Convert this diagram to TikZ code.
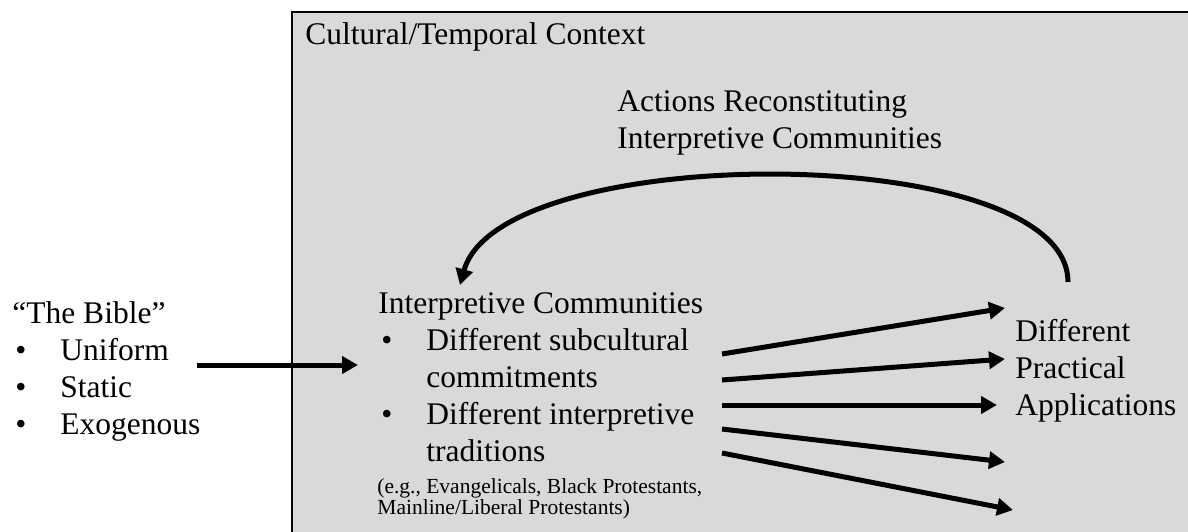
\documentclass[tikz,border=0pt]{standalone}
\usepackage{fontspec}
\setmainfont{Liberation Serif}
\usetikzlibrary{arrows.meta}

\definecolor{ctxgray}{HTML}{D9D9D9}

\newcommand{\bodysize}{\fontsize{15.75}{18.6}\selectfont}
\newcommand{\notesize}{\fontsize{10.75}{10.5}\selectfont}
\newcommand{\bul}{\makebox[24pt][l]{\hspace*{1.5pt}\textbullet}}
\newcommand{\hang}{\hspace*{24pt}}

\tikzset{
  plain text/.style={anchor=base west, inner sep=0pt, font=\bodysize},
  flow/.style={line width=2.5pt, -{Triangle[length=8pt,width=8.5pt]}},
}

\begin{document}
\begin{tikzpicture}[x=0.5pt, y=-0.5pt]
    \useasboundingbox (0,0) rectangle (1188,531);
    \clip (0,0) rectangle (1188,531);

    % Context box (runs off the page on the right and bottom)
    \filldraw[fill=ctxgray, line width=1.3pt] (292,12) rectangle (1230,580);
    \node[plain text] (context) at (305,44) {Cultural/Temporal Context};

    % Feedback loop
    \node[plain text] (actions) at (617,111)
      {\begin{tabular}[t]{@{}l@{}}Actions Reconstituting\\Interpretive Communities\end{tabular}};
    \coordinate (loopstart) at (1068,282);
    \coordinate (looptip) at (460,285);
    \draw[flow] (loopstart) .. controls (1068,140) and (500,140) .. (looptip);

    % The Bible
    \node[plain text] (bible) at (12,323)
      {\begin{tabular}[t]{@{}l@{}}``The Bible''\\\bul Uniform\\\bul Static\\\bul Exogenous\end{tabular}};

    % Interpretive communities
    \node[plain text] (communities) at (378,313)
      {\begin{tabular}[t]{@{}l@{}}Interpretive Communities\\
        \bul Different subcultural\\\hang commitments\\
        \bul Different interpretive\\\hang traditions\end{tabular}};
    \node[plain text, font=\notesize] (examples) at (377,493)
      {\begin{tabular}[t]{@{}l@{}}(e.g., Evangelicals, Black Protestants,\\Mainline/Liberal Protestants)\end{tabular}};

    \coordinate (bibleout) at (197,365);
    \coordinate (commin) at (358,365);
    \draw[flow] (bibleout) -- (commin);

    % Applications
    \node[plain text] (applications) at (1015,341)
      {\begin{tabular}[t]{@{}l@{}}Different\\Practical\\Applications\end{tabular}};

    \foreach \i/\ys/\xe/\ye in {1/354/1005/308, 2/380/1005/359, 3/405/997/405,
                                4/429/1005/462, 5/453/1013/510} {
      \coordinate (fan\i) at (722,\ys);
      \coordinate (app\i) at (\xe,\ye);
      \draw[flow] (fan\i) -- (app\i);
    }
\end{tikzpicture}
\end{document}
